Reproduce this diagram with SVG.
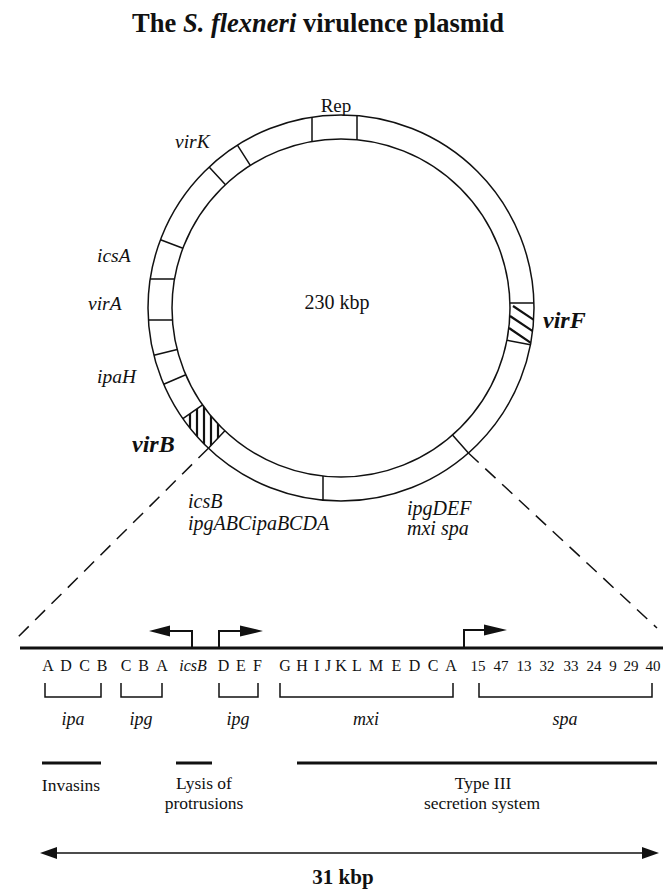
<svg xmlns="http://www.w3.org/2000/svg" width="663" height="889" viewBox="0 0 663 889" font-family="'Liberation Serif','Times New Roman',serif">
<style>
text{font-family:"Liberation Serif","Times New Roman",serif;fill:#111}
.it{font-style:italic}
.bi{font-style:italic;font-weight:bold}
.ln{stroke:#111;stroke-width:1.5;fill:none}
.th{stroke:#111;stroke-width:3;fill:none}
.hat{stroke:#111;stroke-width:2.2}
.dash{stroke:#111;stroke-width:1.5;stroke-dasharray:14 9;fill:none}
.sm{font-size:16px}
.num{font-size:15px}
.fn{font-size:17.5px}
</style>
<defs>
<clipPath id="cb"><path d="M182.9,418.7 A193,193 0 0 0 208.4,448.2 L224.9,430.8 A169,169 0 0 1 202.6,404.9 Z"/></clipPath>
<clipPath id="cf"><path d="M533.9,303 A193,193 0 0 1 530.5,344.8 L506.9,340.2 A169,169 0 0 0 509.9,303 Z"/></clipPath>
</defs>
<rect width="663" height="889" fill="#fff"/>
<text id="title" x="318" y="32" text-anchor="middle" font-size="26.5" font-weight="bold">The <tspan font-style="italic">S. flexneri</tspan> virulence plasmid</text>

<g id="plasmid">
<circle class="ln" cx="341" cy="308" r="193"/>
<circle class="ln" cx="341" cy="308" r="169"/>
<path class="ln" d="M312,117.2V141.5 M357,115.7V139.8 M237.4,145.2L250.3,165.4 M209.1,167.1L225.5,184.7 M160.5,239.8L182.9,248.3 M150.2,279H174.5 M148.4,320H172.4 M153.9,355.3L177.2,349.5 M163.7,384.3L185.8,374.8 M182.9,418.7L202.6,404.9 M208.4,448.2L224.9,430.8 M323,476V500.2 M452.5,435L468.4,453 M509.9,303H533.9 M506.9,340.2L530.5,344.8"/>
<g clip-path="url(#cb)"><path class="hat" d="M190,398V455 M197,398V455 M204,398V455 M211,398V455 M218,398V455"/></g>
<g clip-path="url(#cf)"><path class="hat" d="M513,306L537,322 M510,316L537,334 M509,328L534,345"/></g>
<text x="337" y="309" text-anchor="middle" font-size="20">230 kbp</text>
</g>

<g id="plasmid-labels">
<text x="336" y="112" text-anchor="middle" font-size="19">Rep</text>
<text class="it" x="175" y="148" font-size="19.5">virK</text>
<text class="it" x="97" y="262" font-size="19.5">icsA</text>
<text class="it" x="88" y="310" font-size="19.5">virA</text>
<text class="it" x="97" y="383" font-size="19.5">ipaH</text>
<text class="bi" x="132" y="452" font-size="24">virB</text>
<text class="bi" x="543" y="328" font-size="24">virF</text>
<text class="it" x="188" y="508" font-size="20">icsB</text>
<text class="it" x="188" y="530" font-size="20">ipgABCipaBCDA</text>
<text class="it" x="407" y="515" font-size="20">ipgDEF</text>
<text class="it" x="407" y="535" font-size="20">mxi spa</text>
</g>

<g id="connectors">
<path class="dash" d="M208.4,448.2L16,639"/>
<path class="dash" d="M468.4,453L657,628"/>
<path class="th" d="M20,648H663"/>
<path stroke="#111" stroke-width="2" fill="none" d="M192,648V631H167 M219,648V631H241 M464,648V630H485"/>
<path fill="#111" d="M149,631L170,625.5V636.5Z M263,631L240,625.5V636.5Z M507,630L484,624.5V635.5Z"/>
<path class="th" d="M42,763H101 M176,763H212 M297,763H657"/>
<path class="ln" d="M55,853H645"/>
<path fill="#111" d="M40,853L57,847V859Z M659,853L642,847V859Z"/>
<path class="ln" d="M45,683V697H101V683 M121,683V697H162V683 M219,683V697H258V683 M280,683V697H453V683 M479,683V697H652V683"/>
</g>

<g id="genes" class="sm">
<text x="48" y="671" text-anchor="middle">A</text>
<text x="66" y="671" text-anchor="middle">D</text>
<text x="84.5" y="671" text-anchor="middle">C</text>
<text x="102" y="671" text-anchor="middle">B</text>
<text x="126" y="671" text-anchor="middle">C</text>
<text x="143.5" y="671" text-anchor="middle">B</text>
<text x="162" y="671" text-anchor="middle">A</text>
<text class="it" x="193" y="671" text-anchor="middle">icsB</text>
<text x="223.5" y="671" text-anchor="middle">D</text>
<text x="241" y="671" text-anchor="middle">E</text>
<text x="257.5" y="671" text-anchor="middle">F</text>
<text x="285" y="671" text-anchor="middle">G</text>
<text x="302" y="671" text-anchor="middle">H</text>
<text x="317" y="671" text-anchor="middle">I</text>
<text x="328" y="671" text-anchor="middle">J</text>
<text x="341" y="671" text-anchor="middle">K</text>
<text x="357" y="671" text-anchor="middle">L</text>
<text x="376" y="671" text-anchor="middle">M</text>
<text x="396.5" y="671" text-anchor="middle">E</text>
<text x="414.5" y="671" text-anchor="middle">D</text>
<text x="433" y="671" text-anchor="middle">C</text>
<text x="451" y="671" text-anchor="middle">A</text>
<text class="num" x="478" y="671" text-anchor="middle">15</text>
<text class="num" x="501" y="671" text-anchor="middle">47</text>
<text class="num" x="524" y="671" text-anchor="middle">13</text>
<text class="num" x="547" y="671" text-anchor="middle">32</text>
<text class="num" x="571" y="671" text-anchor="middle">33</text>
<text class="num" x="594" y="671" text-anchor="middle">24</text>
<text class="num" x="613" y="671" text-anchor="middle">9</text>
<text class="num" x="631" y="671" text-anchor="middle">29</text>
<text class="num" x="653" y="671" text-anchor="middle">40</text>
</g>

<g id="groups">
<text class="it" x="73" y="725" text-anchor="middle" font-size="18">ipa</text>
<text class="it" x="141" y="725" text-anchor="middle" font-size="18">ipg</text>
<text class="it" x="238" y="725" text-anchor="middle" font-size="18">ipg</text>
<text class="it" x="366" y="725" text-anchor="middle" font-size="18">mxi</text>
<text class="it" x="565" y="725" text-anchor="middle" font-size="18">spa</text>
</g>

<g id="functions">
<text class="fn" x="71" y="791" text-anchor="middle">Invasins</text>
<text class="fn" x="204" y="789" text-anchor="middle">Lysis of</text>
<text class="fn" x="204" y="809" text-anchor="middle">protrusions</text>
<text class="fn" x="483" y="789" text-anchor="middle">Type III</text>
<text class="fn" x="482" y="809" text-anchor="middle">secretion system</text>
<text x="343" y="884" text-anchor="middle" font-size="21" font-weight="bold">31 kbp</text>
</g>
</svg>
